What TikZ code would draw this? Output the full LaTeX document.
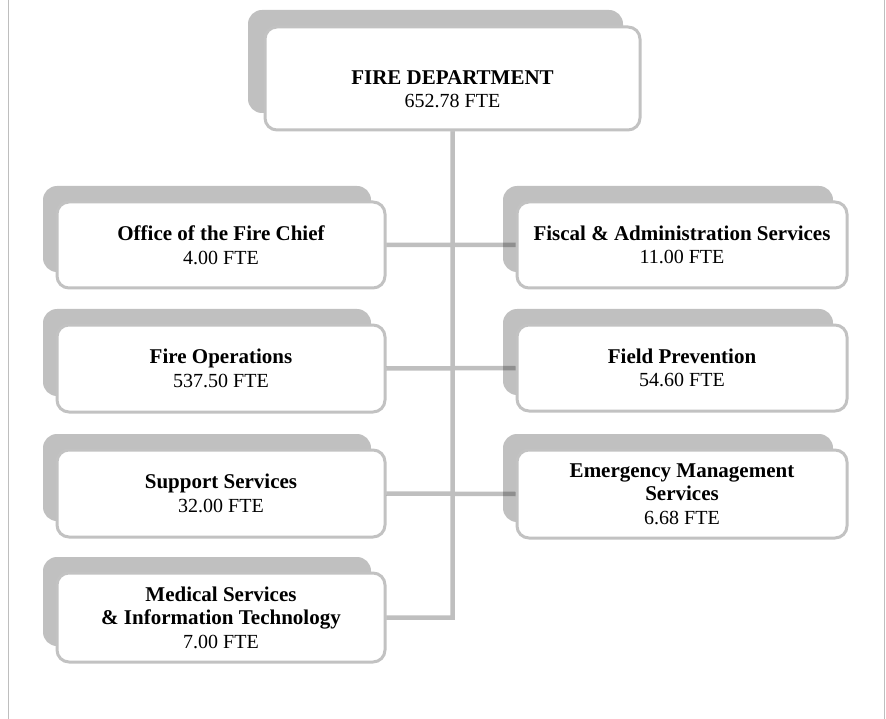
\documentclass[tikz,border=0pt]{standalone}
\usepackage{fontspec}
\setmainfont{Liberation Serif}
\definecolor{shadowgray}{RGB}{192,192,192}
\definecolor{bordergray}{RGB}{194,194,194}
\definecolor{framegray}{RGB}{190,190,190}
\tikzset{
  shadowbox/.style={fill=shadowgray, draw=none, rounded corners=14pt, inner sep=0pt},
  mainbox/.style={draw=bordergray, line width=3pt, fill=white, rounded corners=12pt,
    inner sep=0pt, align=center, font=\fontsize{20}{23.5}\selectfont},
  lbl/.style={inner sep=0pt, align=center, font=\fontsize{20}{23.5}\selectfont},
  conn/.style={draw=black, draw opacity=0.25, line width=4.5pt},
  frameline/.style={draw=framegray, line width=1.5pt}
}
\newcommand\bt[1]{{\fontsize{21}{23.5}\selectfont\bfseries #1}}
\newcommand\orgbox[6]{%
  \node[shadowbox, minimum width=#4, minimum height=#5, xshift=-14pt, yshift=16pt] (#1sh) at (#2,#3) {};
  \node[mainbox, minimum width=#4, minimum height=#5] (#1) at (#2,#3) {#6};
}
\begin{document}
\begin{tikzpicture}[x=1pt,y=-1pt]
\useasboundingbox (0,0) rectangle (886,719);
% frame
\coordinate (fl1) at (8.5,0); \coordinate (fl2) at (8.5,719);
\coordinate (fr1) at (884.5,0); \coordinate (fr2) at (884.5,719);
\draw[frameline] (fl1) -- (fl2);
\draw[frameline] (fr1) -- (fr2);
% top box
\node[shadowbox, minimum width=375, minimum height=103, xshift=-17pt, yshift=17pt] (fdsh) at (452.5,78.5) {};
\node[mainbox, minimum width=375, minimum height=103] (fd) at (452.5,78.5) {};
\node[lbl] (fdtext) at (452.5,89) {\bt{FIRE DEPARTMENT}\\652.78 FTE};
% left column
\orgbox{ofc}{221}{245}{328}{86}{\bt{Office of the Fire Chief}\\4.00 FTE}
\orgbox{fops}{221}{368.5}{328}{87}{\bt{Fire Operations}\\537.50 FTE}
\orgbox{sup}{221}{493.5}{328}{87}{\bt{Support Services}\\32.00 FTE}
\orgbox{med}{221}{617.5}{328}{89}{\bt{Medical Services}\\\bt{\& Information Technology}\\7.00 FTE}
% right column
\orgbox{fis}{682}{245}{330}{86}{\bt{Fiscal \& Administration Services}\\11.00 FTE}
\orgbox{fp}{682}{368}{330}{86}{\bt{Field Prevention}\\54.60 FTE}
\orgbox{ems}{682}{494}{330}{88}{\bt{Emergency Management}\\\bt{Services}\\6.68 FTE}
% connectors
\draw[conn] (med.east) -| (fd.south)
  (ofc.east) -- (fis.west)
  (fops.east) -- (fp.west)
  (sup.east) -- (ems.west);
\end{tikzpicture}
\end{document}
